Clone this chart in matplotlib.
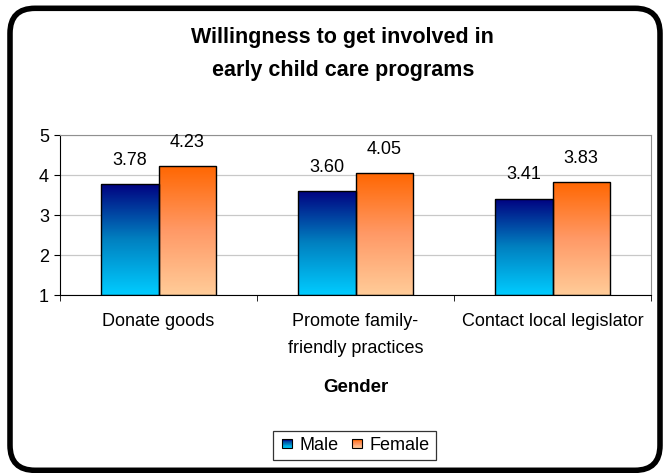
import matplotlib
matplotlib.use("Agg")
import matplotlib.pyplot as plt
import numpy as np
from matplotlib.patches import FancyBboxPatch, Rectangle
from matplotlib.colors import LinearSegmentedColormap
from matplotlib.legend_handler import HandlerBase

plt.rcParams['font.family'] = ['Liberation Sans', 'DejaVu Sans']

categories = ["Donate goods", "Promote family-\nfriendly practices", "Contact local legislator"]
male = [3.78, 3.60, 3.41]
female = [4.23, 4.05, 3.83]
series_names = ["Male", "Female"]

male_cmap = LinearSegmentedColormap.from_list("male", ["#00CCFF", "#0080C0", "#000080"])
female_cmap = LinearSegmentedColormap.from_list("female", ["#FFCC99", "#FF9966", "#FF6600"])


class GradientHandler(HandlerBase):
    def __init__(self, cmap):
        super().__init__()
        self.cmap = cmap

    def create_artists(self, legend, orig_handle, xdescent, ydescent,
                       width, height, fontsize, trans):
        n = 12
        side = height * 0.75
        x0 = -xdescent + (width - side) / 2
        y0 = -ydescent + (height - side) / 2
        arts = []
        for i in range(n):
            r = Rectangle((x0, y0 + side * i / n), side, side / n + 0.2,
                          facecolor=self.cmap(i / (n - 1)), edgecolor='none',
                          transform=trans)
            arts.append(r)
        arts.append(Rectangle((x0, y0), side, side, facecolor='none',
                              edgecolor='black', lw=0.8, transform=trans))
        return arts


fig = plt.figure(figsize=(6.63, 4.73), dpi=100)
ax = fig.add_axes([0.0905, 0.376, 0.8915, 0.3385])

x = np.arange(len(categories))
w = 0.29
grad = np.linspace(0, 1, 256).reshape(-1, 1)
handles = []
for vals, off, cmap, name in [(male, -w / 2, male_cmap, "Male"),
                               (female, w / 2, female_cmap, "Female")]:
    bars = ax.bar(x + off, np.array(vals) - 1, w, bottom=1, facecolor='none',
                  edgecolor='black', lw=1.0, zorder=3, label=name)
    handles.append(bars)
    for b, v in zip(bars, vals):
        im = ax.imshow(grad, cmap=cmap, origin='lower', aspect='auto',
                       extent=[b.get_x(), b.get_x() + b.get_width(), 1, v],
                       zorder=2)
        im.set_clip_path(b)
        ax.annotate(f"{v:.2f}", (b.get_x() + b.get_width() / 2, v),
                    xytext=(0, 11), textcoords='offset points',
                    ha='center', va='bottom', fontsize=13)

ax.set_xlim(-0.5, 2.5)
ax.set_ylim(1, 5)
ax.set_yticks([1, 2, 3, 4, 5])
ax.yaxis.grid(True, color='#C8C8C8', lw=0.9, zorder=0)
ax.set_axisbelow(True)
ax.set_xticks(x)
ax.set_xticklabels(categories, fontsize=13, linespacing=1.75)
ax.set_xticks([-0.5, 0.5, 1.5, 2.5], minor=True)
ax.tick_params(axis='x', which='major', length=0, pad=13)
ax.tick_params(axis='x', which='minor', length=4, direction='out')
ax.tick_params(axis='y', length=4, direction='out', labelsize=13, pad=4)
for s in ['top', 'right']:
    ax.spines[s].set_color('#909090')
for s in ['left', 'bottom']:
    ax.spines[s].set_color('black')
ax.set_xlabel("Gender", fontsize=13.5, fontweight='bold', labelpad=16)

fig.text(0.517, 0.885, "Willingness to get involved in\nearly child care programs",
         ha='center', va='center', fontsize=15.5, fontweight='bold', linespacing=1.75)

leg = fig.legend(handles, series_names, loc='center', bbox_to_anchor=(0.535, 0.058),
                 ncol=2, frameon=True, fancybox=False, fontsize=13,
                 handlelength=0.8, handletextpad=0.3, columnspacing=0.6,
                 borderpad=0.35,
                 handler_map={handles[0]: GradientHandler(male_cmap),
                              handles[1]: GradientHandler(female_cmap)})
leg.get_frame().set_edgecolor('black')
leg.get_frame().set_linewidth(0.9)

frame = FancyBboxPatch((0.10, 0.027), 6.50, 4.62,
                       boxstyle="round,pad=0,rounding_size=0.25",
                       transform=fig.dpi_scale_trans, facecolor='none',
                       edgecolor='black', lw=4.0)
fig.add_artist(frame)

fig.savefig("out.png", dpi=100)
